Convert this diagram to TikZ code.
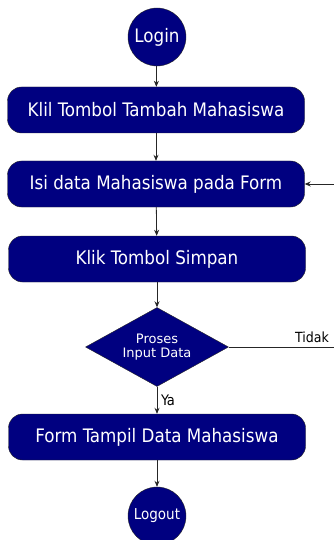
\documentclass[tikz,border=0pt]{standalone}
\usepackage{fontspec}
\setmainfont{DejaVu Sans Condensed}
\newfontfamily\lebar{DejaVu Sans}
\usepackage{tikz}
\usetikzlibrary{shapes.geometric, arrows.meta}

\definecolor{biru}{RGB}{0,0,128}

\begin{document}
\begin{tikzpicture}[x=1pt, y=-1pt]
        \tikzset{blok/.style={draw=black!85, fill=biru, text=white, rounded corners=14pt,
                    minimum width=297pt, minimum height=46pt, font=\fontsize{18.6}{20}\selectfont},
                 bulat/.style={draw=black!85, fill=biru, text=white, circle,
                    minimum size=58pt, inner sep=0pt},
                 keputusan/.style={draw=black!85, fill=biru, text=white, diamond, aspect=1.81,
                    minimum width=143pt, minimum height=79pt, inner sep=0pt, align=center,
                    font=\lebar\fontsize{13}{14.5}\selectfont},
                 panah/.style={draw=black!85, line width=0.8pt, -{Stealth[length=6pt, width=5pt]}}}
        \useasboundingbox (0,0) rectangle (334,540);

        \coordinate (belok) at (337,347);

        \node[bulat, font=\fontsize{18.6}{20}\selectfont] (login) at (157,37) {Login};
        \node[blok] (tambah) at (156,110) {Klil Tombol Tambah Mahasiswa};
        \node[blok] (isi) at (156,184) {Isi data Mahasiswa pada Form};
        \node[blok] (simpan) at (157,259) {Klik Tombol Simpan};
        \node[keputusan] (proses) at (157,347) {Proses\\Input Data};
        \node[blok] (tampil) at (157,437) {Form Tampil Data Mahasiswa};
        \node[bulat, font=\fontsize{15}{16}\selectfont] (logout) at (157,516) {Logout};

        \draw[panah] (login) -- (tambah);
        \draw[panah] (tambah) -- (isi);
        \draw[panah] (isi) -- (simpan);
        \draw[panah] (simpan) -- (proses);
        \draw[panah] (proses) -- (tampil);
        \draw[panah] (tampil) -- (logout);
        % jalur kembali bila input gagal
        \draw[panah] (proses.east) -- (belok) |- (isi.east);

        \node[font=\fontsize{14.5}{16}\selectfont] (ya) at (168,400) {Ya};
        \node[font=\fontsize{14}{16}\selectfont] (tidak) at (312,337) {Tidak};
    \end{tikzpicture}
\end{document}
